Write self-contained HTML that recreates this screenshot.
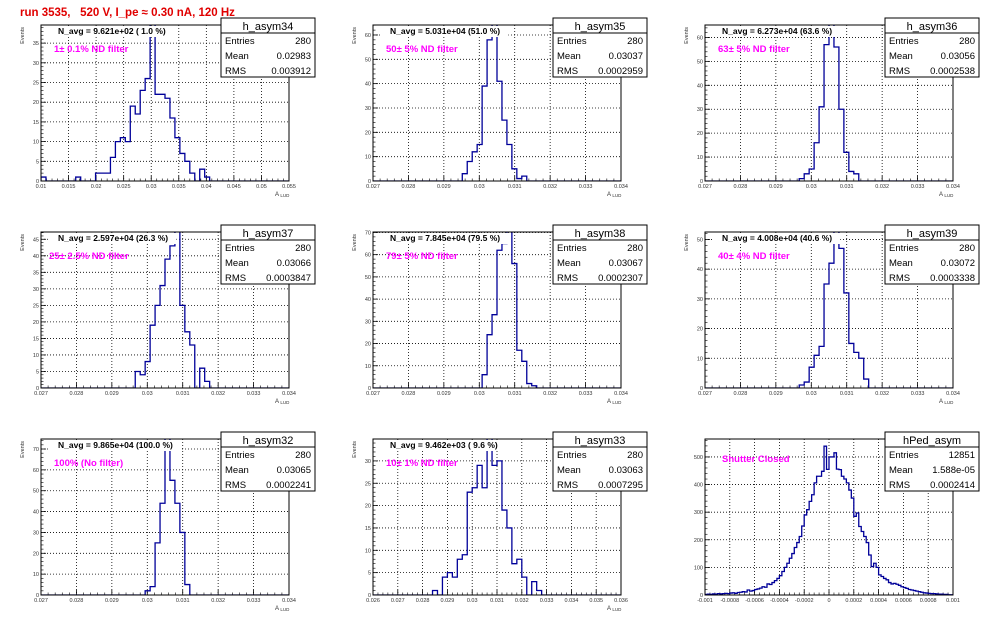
<!DOCTYPE html>
<html><head><meta charset="utf-8">
<style>
html,body{margin:0;padding:0;background:#fff;}
svg{display:block;font-family:"Liberation Sans",sans-serif;}
</style></head>
<body>
<svg id="c" width="996" height="622" viewBox="0 0 996 622">
<rect width="996" height="622" fill="#fff"/>
<text x="20" y="16" fill="#e00000" font-size="11.5" font-weight="bold" xml:space="preserve">run 3535,   520 V, I_pe ≈ 0.30 nA, 120 Hz</text>
</svg>
<script>
// ---- data arrays ----
const names = ["h_asym34","h_asym35","h_asym36","h_asym37","h_asym38","h_asym39","h_asym32","h_asym33","hPed_asym"];
const navgLabels = ["N_avg = 9.621e+02 ( 1.0 %)","N_avg = 5.031e+04 (51.0 %)","N_avg = 6.273e+04 (63.6 %)","N_avg = 2.597e+04 (26.3 %)","N_avg = 7.845e+04 (79.5 %)","N_avg = 4.008e+04 (40.6 %)","N_avg = 9.865e+04 (100.0 %)","N_avg = 9.462e+03 ( 9.6 %)",""];
const filterLabels = ["1± 0.1% ND filter","50± 5% ND filter","63± 5% ND filter","25± 2.5% ND filter","79± 5% ND filter","40± 4% ND filter","100% (No filter)","10± 1% ND filter","Shutter Closed"];
const entries = ["280","280","280","280","280","280","280","280","12851"];
const means = ["0.02983","0.03037","0.03056","0.03066","0.03067","0.03072","0.03065","0.03063","1.588e-05"];
const rmsVals = ["0.003912","0.0002959","0.0002538","0.0003847","0.0002307","0.0003338","0.0002241","0.0007295","0.0002414"];
const xMin = [0.01,0.027,0.027,0.027,0.027,0.027,0.027,0.026,-0.001];
const xMax = [0.055,0.034,0.034,0.034,0.034,0.034,0.034,0.036,0.001];
const yMax = [39.6,64.1,65.2,47.2,70.2,52.5,74.8,34.9,565];
const yStep = [5,10,10,5,10,10,10,5,100];
const xTickStep = [0.005,0.001,0.001,0.001,0.001,0.001,0.001,0.001,0.0002];
const xTickLabels = [
 ["0.01","0.015","0.02","0.025","0.03","0.035","0.04","0.045","0.05","0.055"],
 ["0.027","0.028","0.029","0.03","0.031","0.032","0.033","0.034"],
 ["0.027","0.028","0.029","0.03","0.031","0.032","0.033","0.034"],
 ["0.027","0.028","0.029","0.03","0.031","0.032","0.033","0.034"],
 ["0.027","0.028","0.029","0.03","0.031","0.032","0.033","0.034"],
 ["0.027","0.028","0.029","0.03","0.031","0.032","0.033","0.034"],
 ["0.027","0.028","0.029","0.03","0.031","0.032","0.033","0.034"],
 ["0.026","0.027","0.028","0.029","0.03","0.031","0.032","0.033","0.034","0.035","0.036"],
 ["-0.001","-0.0008","-0.0006","-0.0004","-0.0002","0","0.0002","0.0004","0.0006","0.0008","0.001"]
];
const counts34 = [1,0,0,0,0,0,0,1,0,0,0,2,2,2,6,10,11,10,19,17,23,26,42,22,22,21,16,11,7,5,2,0,3,1,0,0,0,0,0,0,0,0,0,0,0,0,0,0,0,0];
const counts35 = [0,0,0,0,0,0,0,0,0,0,0,0,0,0,0,0,0,0,3,8,12,15,39,58,66,41,25,15,5,1,2,0,0,0,0,0,0,0,0,0,0,0,0,0,0,0,0,0,0,0];
const counts36 = [0,0,0,0,0,0,0,0,0,0,0,0,0,0,0,0,0,0,0,1,3,5,16,31,57,67,56,30,12,4,3,0,0,0,0,0,0,0,0,0,0,0,0,0,0,0,0,0,0,0];
const counts37 = [0,0,0,0,0,0,0,0,0,0,0,0,0,0,0,0,0,0,0,5,4,8,19,25,31,39,43,49,25,17,13,0,6,2,0,0,0,0,0,0,0,0,0,0,0,0,0,0,0,0];
const counts38 = [0,0,0,0,0,0,0,0,0,0,0,0,0,0,0,0,0,0,0,0,0,0,6,24,33,62,65,72,56,17,12,2,1,0,0,0,0,0,0,0,0,0,0,0,0,0,0,0,0,0];
const counts39 = [0,0,0,0,0,0,0,0,0,0,0,0,0,0,0,0,0,0,0,1,2,7,11,14,35,42,54,47,32,15,12,10,3,0,0,0,0,0,0,0,0,0,0,0,0,0,0,0,0,0];
const counts32 = [0,0,0,0,0,0,0,0,0,0,0,0,0,0,0,0,0,0,0,0,0,2,4,25,44,77,55,44,30,5,0,0,0,0,0,0,0,0,0,0,0,0,0,0,0,0,0,0,0,0];
const counts33 = [0,0,0,0,0,0,0,0,0,0,0,0,1,0,4,5,4,8,9,23,24,29,24,36,29,30,19,15,7,8,4,0,3,1,0,0,0,0,0,0,0,0,0,0,0,0,0,0,0,0];
const countsPed = [2,3,2,4,3,5,4,5,6,5, 7,8,6,9,10,12,11,18,14,16, 20,22,25,30,28,40,38,45,52,60, 70,85,100,115,133,150,172,190,212,250, 290,309,339,363,406,430,430,448,539,455, 500,500,515,456,454,430,420,406,380,351, 285,297,248,230,212,190,145,103,115,100, 73,67,60,55,45,40,42,39,35,30, 27,24,20,18,16,14,12,10,8,7, 6,5,5,4,3,3,2,2,1,1];
const allCounts = [counts34,counts35,counts36,counts37,counts38,counts39,counts32,counts33,countsPed];

// ---- drawing ----
const NS="http://www.w3.org/2000/svg";
const svg=document.getElementById('c');
function mk(tag,attrs,parent){const e=document.createElementNS(NS,tag);for(const k in attrs)e.setAttribute(k,attrs[k]);(parent||svg).appendChild(e);return e;}
const FL=41,FR=289,FT=25,FB=181;

for(let p=0;p<9;p++){
  const ox=(p%3)*332, oy=Math.floor(p/3)*207;
  const g=mk('g',{transform:`translate(${ox},${oy})`});
  
  
  const xs=v=>FL+(v-xMin[p])/(xMax[p]-xMin[p])*(FR-FL);
  const ys=v=>FB-v/yMax[p]*(FB-FT);
  const nx=xTickLabels[p].length;
  for(let i=0;i<nx;i++){
    const v=xMin[p]+i*xTickStep[p]; const x=xs(v);
    if(i>0&&i<nx-1){const gl=mk('line',{x1:x,x2:x,y1:FT,y2:FB,stroke:'#000','stroke-width':0.8,'stroke-dasharray':'1,2'},g);
      }
    mk('line',{x1:x,x2:x,y1:FB,y2:FB-5,stroke:'#000','stroke-width':0.8},g);
    if(i<nx-1)for(let m=1;m<5;m++){const xm=xs(v+m*xTickStep[p]/5);mk('line',{x1:xm,x2:xm,y1:FB,y2:FB-2.5,stroke:'#000','stroke-width':0.6},g);}
    const t=mk('text',{x:x,y:FB+7,'font-size':5.5,fill:'#333','text-anchor':'middle'},g);
    t.textContent=xTickLabels[p][i];
    
  }
  for(let v=0;v<=yMax[p];v+=yStep[p]){
    const y=ys(v);
    if(v>0){const gl=mk('line',{x1:FL,x2:FR,y1:y,y2:y,stroke:'#000','stroke-width':0.8,'stroke-dasharray':'1,2'},g);
      }
    mk('line',{x1:FL,x2:FL+5,y1:y,y2:y,stroke:'#000','stroke-width':0.8},g);
    for(let m=1;m<5;m++){const vm=v+m*yStep[p]/5;if(vm<yMax[p]){const ym=ys(vm);mk('line',{x1:FL,x2:FL+2.5,y1:ym,y2:ym,stroke:'#000','stroke-width':0.6},g);}}
    const t=mk('text',{x:FL-2,y:y+2,'font-size':5.5,fill:'#333','text-anchor':'end'},g);
    t.textContent=String(v);
    
  }
  const cid='clip'+p;
  const cp=mk('clipPath',{id:cid},g); mk('rect',{x:FL,y:FT,width:FR-FL,height:FB-FT},cp);
  const c=allCounts[p], n=c.length, bw=(xMax[p]-xMin[p])/n;
  let d=`M${xs(xMin[p])},${ys(0)}`;
  for(let i=0;i<n;i++){d+=` L${xs(xMin[p]+i*bw)},${ys(c[i])} L${xs(xMin[p]+(i+1)*bw)},${ys(c[i])}`;}
  d+=` L${xs(xMax[p])},${ys(0)}`;
  const h=mk('path',{d:d,fill:'none',stroke:'#000099','stroke-width':1.3,'clip-path':`url(#${cid})`},g);
  
  const fr=mk('rect',{x:FL,y:FT,width:FR-FL,height:FB-FT,fill:'none',stroke:'#000','stroke-width':1},g);
  
  if(p<8){
    const yt=mk('text',{x:0,y:0,'font-size':5.5,fill:'#333','text-anchor':'end',transform:`translate(24,${FT+2}) rotate(-90)`},g);
    yt.textContent='Events';
    const xt=mk('text',{x:FR-14,y:FB+15,'font-size':6,fill:'#333'},g);
    xt.innerHTML='A <tspan font-size="4.5" dy="1">LUD</tspan>';
    
    const bg=mk('rect',{x:50,y:26,width:10,height:11,fill:'#fff'},g);
    
    const na=mk('text',{x:58,y:34,'font-size':8.5,'font-weight':'bold',fill:'#000'},g);
    na.textContent=navgLabels[p];
    let w=120; try{w=na.getBBox().width;}catch(e){}
    bg.setAttribute('width',w+16);
  }
  const fl=mk('text',{x:p==8?58:(p==3?49:54),y:p==8?48:52,'font-size':9.5,'font-weight':'bold',fill:'#ff00ff'},g);
  fl.textContent=filterLabels[p];
  const sb=mk('g',{},g);
  
  mk('rect',{x:221,y:18,width:94,height:59,fill:'#fff',stroke:'#000','stroke-width':1},sb);
  mk('line',{x1:221,x2:315,y1:33,y2:33,stroke:'#000','stroke-width':1},sb);
  const tt=mk('text',{x:268,y:30,'font-size':11,'text-anchor':'middle',fill:'#000'},sb);
  tt.textContent=names[p];
  const rows=[['Entries',entries[p]],['Mean',means[p]],['RMS',rmsVals[p]]];
  rows.forEach((r,k)=>{
    const yy=44+k*15;
    const a=mk('text',{x:225,y:yy,'font-size':9.5,fill:'#000'},sb);a.textContent=r[0];
    
    const b=mk('text',{x:311,y:yy,'font-size':9.5,fill:'#000','text-anchor':'end'},sb);b.textContent=r[1];
    
  });
}
</script>
</body></html>
